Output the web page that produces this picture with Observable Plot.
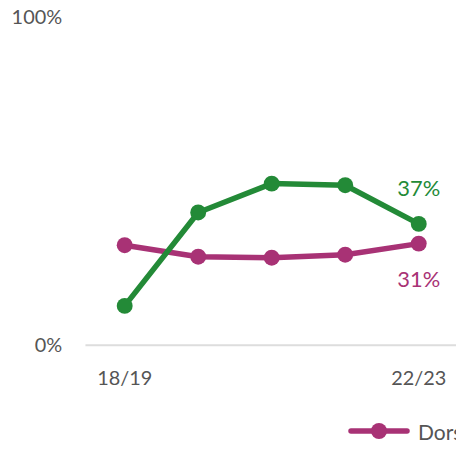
<!DOCTYPE html>
<html><head><meta charset="utf-8">
<script src="https://cdn.jsdelivr.net/npm/d3@7"></script>
<script src="https://cdn.jsdelivr.net/npm/@observablehq/plot@0.6"></script>
<style>
body{margin:0;overflow:hidden;width:456px;height:449px;background:#fff;font-family:Lato,"Open Sans",sans-serif;}
#legend{display:flex;align-items:center;gap:28px;white-space:nowrap;margin-left:348px;height:30px;margin-top:17px;font-size:21px;color:#555;}
.item{display:flex;align-items:center;gap:8px;}
</style></head><body>
<div id="chart"></div>
<div id="legend"></div>
<script>
const years = ["18/19","19/20","20/21","21/22","22/23"];
const tickLabels = ["18/19","22/23"];
const seriesNames = ["Dorset","England"];
const dorset = [30.5, 27, 26.7, 27.6, 31];
const england = [12, 40.5, 49.3, 48.8, 37];
const colors = ["#a83275","#238a37"];
const endLabels = ["31%","37%"];

const rows = [];
years.forEach((y,i)=>{
  rows.push({year:y, value:dorset[i], series:seriesNames[0]});
  rows.push({year:y, value:england[i], series:seriesNames[1]});
});
const last = [
  {year:years[4], value:dorset[4], series:seriesNames[0], label:endLabels[0], dy:37},
  {year:years[4], value:england[4], series:seriesNames[1], label:endLabels[1], dy:-35}
];

const plot = Plot.plot({
  width:459, height:402,
  marginLeft:86, marginRight:0, marginTop:17, marginBottom:55,
  style:{fontFamily:"Lato, 'Open Sans', sans-serif", fontSize:"20px", color:"#555", overflow:"visible"},
  x:{type:"point", domain:years, padding:0.495, label:null, ticks:tickLabels, tickSize:0, tickPadding:26},
  y:{domain:[0,100], ticks:[0,100], tickFormat:d=>d+"%", label:null},
  color:{domain:seriesNames, range:colors},
  marks:[
    Plot.ruleY([0],{stroke:"#ddd", strokeWidth:2}),
    Plot.axisY({ticks:[0,100], tickFormat:d=>d+"%", tickSize:0, tickPadding:24, label:null, fontSize:20}),
    Plot.axisX({ticks:tickLabels, tickSize:0, tickPadding:26, label:null, fontSize:20}),
    Plot.line(rows,{x:"year", y:"value", z:"series", stroke:"series", strokeWidth:5.5}),
    Plot.dot(rows,{x:"year", y:"value", fill:"series", r:8}),
    Plot.text(last.filter(d=>d.dy<0),{x:"year", y:"value", text:"label", fill:"series", dy:-35, fontSize:22}),
    Plot.text(last.filter(d=>d.dy>0),{x:"year", y:"value", text:"label", fill:"series", dy:37, fontSize:22})
  ]
});
document.getElementById("chart").appendChild(plot);

const leg = document.getElementById("legend");
seriesNames.forEach((n,i)=>{
  const it = document.createElement("div"); it.className="item";
  it.innerHTML = `<svg width="62" height="16"><line x1="3" x2="59" y1="8" y2="8" stroke="${colors[i]}" stroke-width="5.5" stroke-linecap="round"/><circle cx="31" cy="8" r="8" fill="${colors[i]}"/></svg><span>${n}</span>`;
  leg.appendChild(it);
});
</script></body></html>
